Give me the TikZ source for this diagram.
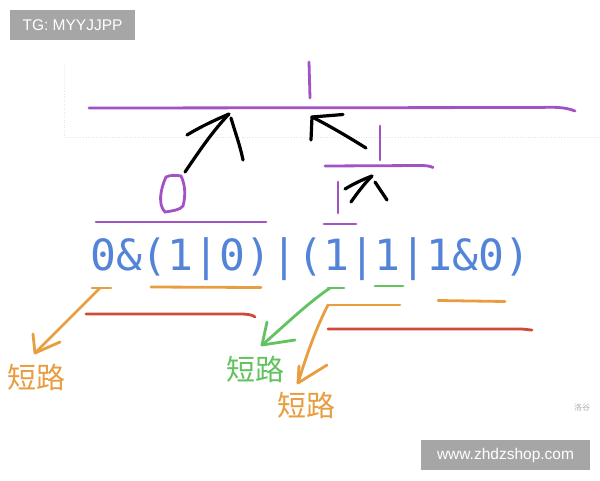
\documentclass[tikz,border=0pt]{standalone}
\usepackage{fontspec}
\newfontfamily\monofnt{DejaVu Sans Mono}
\newfontfamily\sansfnt{Liberation Sans}
\newfontfamily\cjkfnt{Noto Sans CJK SC}
\definecolor{purp}{RGB}{163,82,196}
\definecolor{blu}{RGB}{84,132,216}
\definecolor{orng}{RGB}{232,158,62}
\definecolor{grn}{RGB}{98,194,96}
\definecolor{redl}{RGB}{208,74,58}
\definecolor{boxg}{RGB}{166,166,166}
\tikzset{
  pline/.style={draw=purp, line width=2.8pt, line cap=round},
  kline/.style={draw=black, line width=3.2pt, line cap=round, line join=round},
  oline/.style={draw=orng, line width=2.8pt, line cap=round, line join=round},
  gline/.style={draw=grn, line width=2.8pt, line cap=round, line join=round},
  rline/.style={draw=redl, line width=2.8pt, line cap=round},
  wmark/.style={fill=boxg, text=white, font=\sansfnt\fontsize{15.5}{17}\selectfont, inner sep=0pt, anchor=center},
  cjklab/.style={font=\cjkfnt\fontsize{29}{32}\selectfont, inner sep=0pt}
}
\begin{document}
\begin{tikzpicture}[x=1pt,y=-1pt]
\useasboundingbox (0,0) rectangle (600,480);
\fill[white] (0,0) rectangle (600,480);
% watermark boxes
\node[wmark, minimum width=125pt, minimum height=30pt] (tg) at (72.5,25) {TG: MYYJJPP};
\node[wmark, minimum width=169pt, minimum height=30pt] (www) at (505.5,455) {www.zhdzshop.com};
\node[text=black!30, font=\cjkfnt\fontsize{8}{9}\selectfont, inner sep=0pt] (lg) at (582,407) {洛谷};
% faint dotted frame
\draw[black!10, dotted, line width=0.6pt] (64,65) -- (64,137) -- (600,137);
% expression
\node[anchor=base west, inner sep=0pt, text=blu, font=\monofnt\fontsize{43}{46}\selectfont] (expr) at (90,270) {0\&(1|0)|(1|1|1\&0)};
% top purple result
\draw[pline] (89,108) -- (540,107.5) .. controls (555,107) and (565,107) .. (575,111);
\draw[pline] (309,62) -- (310,98);
% left sub result 0
\draw[pline] (96,222) -- (266,222);
\draw[pline] (166,177) .. controls (160,190) and (158,205) .. (165,212)
  .. controls (172,211) and (180,210) .. (183,206)
  .. controls (186,195) and (185,184) .. (181,176)
  .. controls (176,175) and (170,175) .. (166,177) -- cycle;
% right sub results
\draw[pline] (325,166) -- (420,165.5) .. controls (426,165.5) and (430,166) .. (433,167.5);
\draw[pline] (380,126) -- (380,160);
\draw[pline] (324,224) -- (356,224);
\draw[pline] (338,182) -- (338,213);
% black arrows
\coordinate (a1s) at (185,172);
\coordinate (a1e) at (229,114);
\draw[kline] (a1s) .. controls (200,150) and (212,132) .. (a1e);
\draw[kline] (187,135) .. controls (200,127) and (215,120) .. (a1e);
\draw[kline] (231,118) .. controls (235,132) and (240,145) .. (243,160);
\coordinate (a2s) at (366,148);
\coordinate (a2e) at (312,117);
\draw[kline] (a2s) .. controls (350,138) and (330,126) .. (a2e);
\draw[kline] (a2e) -- (343,114.5);
\draw[kline] (a2e) -- (311,140);
\coordinate (a3s) at (351,202);
\coordinate (a3e) at (372,176);
\draw[kline] (a3s) .. controls (358,192) and (365,183) .. (a3e);
\draw[kline] (345,189) .. controls (355,183) and (364,179) .. (a3e);
\draw[kline] (375,182) -- (387,200);
% orange/green/red underlines
\draw[oline] (92,288) -- (111,288);
\draw[oline] (151,287) -- (261,287.5);
\draw[rline] (86,314) -- (240,314) .. controls (248,314) and (253,315) .. (255,317);
\draw[gline] (328,288) -- (344,288);
\draw[gline] (375,286) -- (403,286);
\draw[oline] (328,305) -- (400,305);
\draw[oline] (438,300.5) -- (505,301.5);
\draw[rline] (328,329) -- (520,329) .. controls (525,329) and (529,330) .. (532,330);
% short-circuit labels
\node[cjklab, text=orng] (l1) at (37,377) {短路};
\node[cjklab, text=grn] (l2) at (255,369) {短路};
\node[cjklab, text=orng] (l3) at (306,405) {短路};
% arrows to labels
\coordinate (o1s) at (100,288);
\coordinate (o1e) at (35,353);
\draw[oline] (o1s) -- (o1e);
\draw[oline] (33,334) -- (o1e) -- (60,342);
\coordinate (g1s) at (330,288);
\coordinate (g1e) at (262,345);
\draw[gline] (g1s) .. controls (305,305) and (280,330) .. (g1e);
\draw[gline] (267,322) -- (g1e) -- (295,340);
\coordinate (o2s) at (328,305);
\coordinate (o2e) at (298,383);
\draw[oline] (o2s) .. controls (315,330) and (305,360) .. (o2e);
\draw[oline] (299,366) -- (o2e) -- (327,365);
\end{tikzpicture}
\end{document}
